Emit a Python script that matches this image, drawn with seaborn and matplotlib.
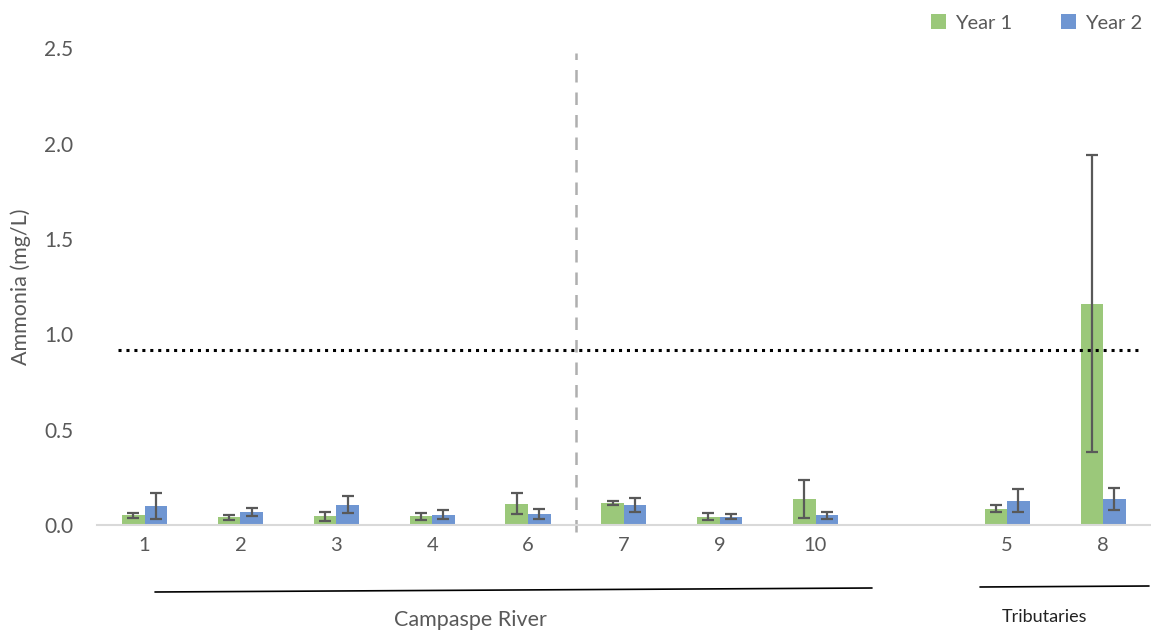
import matplotlib
matplotlib.use('Agg')
import matplotlib.pyplot as plt
from matplotlib.lines import Line2D
import numpy as np
import pandas as pd
import seaborn as sns

sns.set_style('white')
plt.rcParams['font.family'] = ['Lato', 'DejaVu Sans']

#%% data
sites = ['1', '2', '3', '4', '6', '7', '9', '10', '', '5', '8']
sites_with_data = ['1', '2', '3', '4', '6', '7', '9', '10', '5', '8']
year1 = [0.052, 0.040, 0.045, 0.046, 0.110, 0.114, 0.044, 0.137, 0.086, 1.160]
year1_err = [0.013, 0.014, 0.025, 0.018, 0.055, 0.009, 0.017, 0.098, 0.020, 0.780]
year2 = [0.100, 0.068, 0.107, 0.054, 0.056, 0.105, 0.044, 0.050, 0.126, 0.135]
year2_err = [0.070, 0.023, 0.043, 0.022, 0.026, 0.038, 0.013, 0.020, 0.060, 0.058]
guideline = 0.92

df = pd.DataFrame({
    'site': sites_with_data * 2,
    'year': ['Year 1'] * len(sites_with_data) + ['Year 2'] * len(sites_with_data),
    'ammonia': year1 + year2,
    'err': year1_err + year2_err,
})
err_lookup = {(s, y): e for s, y, e in zip(df['site'], df['year'], df['err'])}

#%% plot
fig = plt.figure(figsize=(11.51, 6.34), dpi=100)
ax = fig.add_axes([0.084, 0.172, 0.916, 0.752])
palette = {'Year 1': '#9BC87A', 'Year 2': '#6F96D2'}
sns.barplot(x='site', y='ammonia', hue='year', data=df, order=sites,
            hue_order=['Year 1', 'Year 2'], palette=palette, width=0.47,
            errorbar=None, saturation=1, linewidth=0, ax=ax)

# error bars from the drawn bars
for cont, yr in zip(ax.containers, ['Year 1', 'Year 2']):
    for bar in cont:
        xc = bar.get_x() + bar.get_width() / 2
        site = sites[int(round(xc))]
        ax.errorbar(xc, bar.get_height(), yerr=err_lookup[(site, yr)],
                    fmt='none', ecolor='#595959', elinewidth=1.6, capsize=4.5, capthick=1.6)

ax.axhline(guideline, xmin=0.02, xmax=0.99, color='black', linestyle=(0, (1, 1.6)), linewidth=2.2)
ax.axvline(4.5, ymin=-0.015, ymax=0.99, color='#AFAFAF', linestyle=(0, (5, 4)), linewidth=1.8, clip_on=False)

ax.set(xlim=(-0.5, 10.5), ylim=(0, 2.5), xlabel='', ylabel='Ammonia (mg/L)')
ax.set_yticks([0, 0.5, 1.0, 1.5, 2.0, 2.5])
ax.set_yticklabels(['0.0', '0.5', '1.0', '1.5', '2.0', '2.5'])
ax.tick_params(axis='y', length=0, pad=17, labelsize=15, labelcolor='#595959')
ax.tick_params(axis='x', length=0, pad=9, labelsize=14.5, labelcolor='#595959')
ax.yaxis.label.set_color('#595959')
ax.yaxis.label.set_size(15.5)
ax.yaxis.labelpad = 9
for s in ['top', 'right', 'left']:
    ax.spines[s].set_visible(False)
ax.spines['bottom'].set_color('#D9D9D9')
ax.spines['bottom'].set_linewidth(1.5)

handles, labels = ax.get_legend_handles_labels()
ax.get_legend().remove()
fig.legend(handles, labels, loc='upper right', bbox_to_anchor=(1.008, 1.006), ncol=2, frameon=False,
           fontsize=14.5, labelcolor='#595959', handlelength=0.75, handleheight=0.75,
           handletextpad=0.45, columnspacing=2.4)

# group brackets
fig.add_artist(Line2D([155 / 1151, 872 / 1151], [1 - 592 / 634, 1 - 588 / 634], color='black', linewidth=1.2))
fig.add_artist(Line2D([980 / 1151, 1149 / 1151], [1 - 587 / 634, 1 - 586 / 634], color='black', linewidth=1.2))
fig.text(470 / 1151, 1 - 620 / 634, 'Campaspe River', ha='center', va='center', fontsize=15.5, color='#595959')
fig.text(1045 / 1151, 1 - 617 / 634, 'Tributaries', ha='center', va='center', fontsize=13, color='#222222')

fig.savefig('out.png', dpi=100)
